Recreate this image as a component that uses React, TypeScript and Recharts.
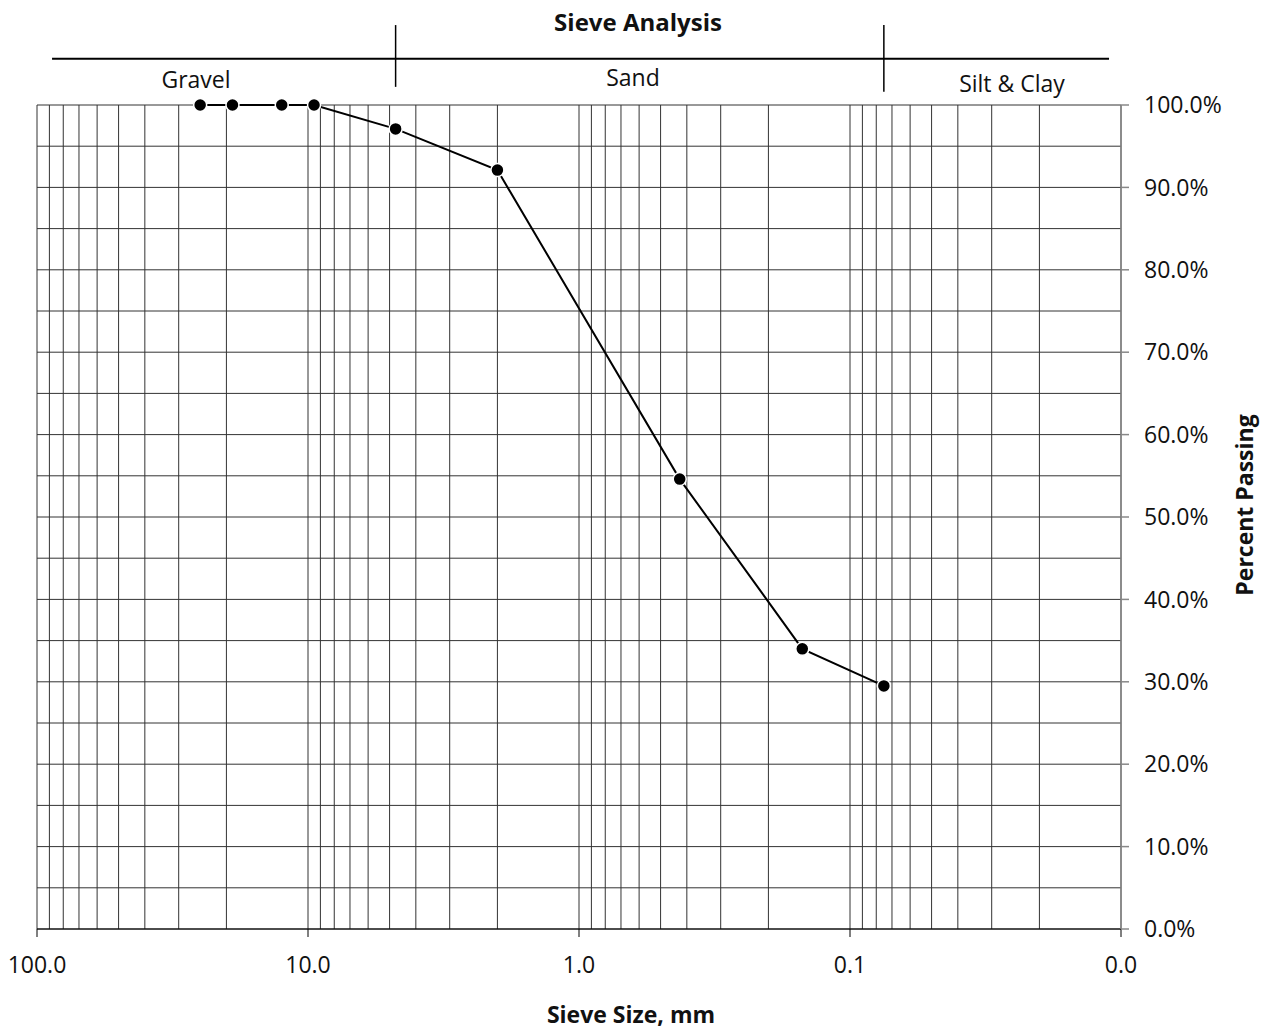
import { LineChart, Line, XAxis, YAxis, ReferenceLine } from 'recharts';

// sieve openings (mm) and percent passing
const sieveSizes = [25, 19, 12.5, 9.5, 4.75, 2.0, 0.425, 0.15, 0.075];
const percentPassing = [100, 100, 100, 100, 97.1, 92.1, 54.6, 34.0, 29.5];

const xTicks = [100, 10, 1, 0.1, 0.01];
const yTicks = [0, 10, 20, 30, 40, 50, 60, 70, 80, 90, 100];
const yMinorGrid = [5, 15, 25, 35, 45, 55, 65, 75, 85, 95];
const decades = [10, 1, 0.1, 0.01];

const soilClasses = ['Gravel', 'Sand', 'Silt & Clay'];

const data = sieveSizes.map((size, i) => ({ size, passing: percentPassing[i] }));

// log grid lines: 1..9 inside each decade plus the 100 edge
const xGrid: number[] = [100];
decades.forEach((d) => {
  for (let k = 1; k <= 9; k++) xGrid.push(+(k * d).toPrecision(3));
});

const FONT = '"Open Sans", "Noto Sans", sans-serif';
const GRID = '#333';

const textStyle: React.CSSProperties = {
  position: 'absolute',
  transform: 'translate(-50%, -50%)',
  fontFamily: FONT,
  fontSize: 23,
  color: '#111',
  whiteSpace: 'nowrap',
  lineHeight: 1.2,
};

export default function App() {
  return (
    <div style={{ position: 'absolute', left: 0, top: 0, width: 1275, height: 1030, background: '#fff' }}>
      <LineChart
        width={1275}
        height={1030}
        data={data}
        margin={{ top: 105, right: 80, bottom: 51, left: 37 }}
      >
        {xGrid.map((v) => (
          <ReferenceLine key={'x' + v} x={v} stroke={GRID} strokeWidth={1} />
        ))}
        {[...yTicks, ...yMinorGrid].map((v) => (
          <ReferenceLine key={'y' + v} y={v} stroke={GRID} strokeWidth={1} />
        ))}

        {/* header brackets */}
        <ReferenceLine
          ifOverflow="visible"
          segment={[{ x: 88, y: 105.6 }, { x: 0.01107, y: 105.6 }]}
          stroke="#000"
          strokeWidth={2}
        />
        <ReferenceLine
          ifOverflow="visible"
          segment={[{ x: 4.75, y: 102.2 }, { x: 4.75, y: 109.7 }]}
          stroke="#000"
          strokeWidth={1.5}
        />
        <ReferenceLine
          ifOverflow="visible"
          segment={[{ x: 0.075, y: 101.6 }, { x: 0.075, y: 109.7 }]}
          stroke="#000"
          strokeWidth={1.5}
        />

        <XAxis
          dataKey="size"
          type="number"
          scale="log"
          domain={[0.01, 100]}
          reversed
          allowDataOverflow
          ticks={xTicks}
          tickFormatter={(v: number) => v.toFixed(1)}
          height={50}
          tickSize={8}
          tickMargin={20}
          stroke="#000"
          tick={{ fill: '#111', fontSize: 23, fontFamily: FONT }}
          interval={0}
        />
        <YAxis
          orientation="right"
          type="number"
          domain={[0, 100]}
          ticks={yTicks}
          tickFormatter={(v: number) => v.toFixed(1) + '%'}
          width={74}
          tickSize={8}
          tickMargin={15}
          stroke="#888"
          strokeWidth={1.5}
          tick={{ fill: '#111', fontSize: 23, fontFamily: FONT }}
          interval={0}
        />
        <Line
          dataKey="passing"
          stroke="#000"
          strokeWidth={2}
          isAnimationActive={false}
          dot={{ r: 6.5, fill: '#000', stroke: '#fff', strokeWidth: 1.5 }}
          activeDot={false}
        />
      </LineChart>

      <div style={{ ...textStyle, left: 638, top: 22, fontWeight: 700, fontSize: 24 }}>Sieve Analysis</div>
      <div style={{ ...textStyle, left: 196, top: 80 }}>{soilClasses[0]}</div>
      <div style={{ ...textStyle, left: 633, top: 78 }}>{soilClasses[1]}</div>
      <div style={{ ...textStyle, left: 1012, top: 84 }}>{soilClasses[2]}</div>
      <div style={{ ...textStyle, left: 631, top: 1015, fontWeight: 700 }}>Sieve Size, mm</div>
      <div
        style={{
          ...textStyle,
          left: 1245,
          top: 505,
          fontWeight: 700,
          transform: 'translate(-50%, -50%) rotate(-90deg)',
        }}
      >
        Percent Passing
      </div>
    </div>
  );
}
